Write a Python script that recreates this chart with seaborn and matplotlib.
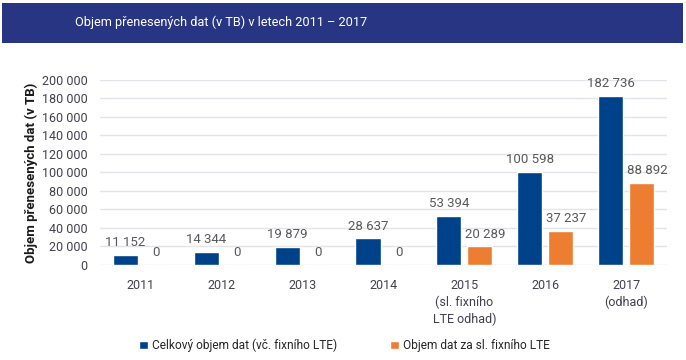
import pandas as pd
import matplotlib.pyplot as plt
import seaborn as sns
from matplotlib.patches import Rectangle
from matplotlib.ticker import FuncFormatter, MultipleLocator

# Data
years = ['2011', '2012', '2013', '2014', '2015\n(sl. fixního\nLTE odhad)', '2016', '2017\n(odhad)']
celkovy = [11152, 14344, 19879, 28637, 53394, 100598, 182736]
lte = [0, 0, 0, 0, 20289, 37237, 88892]
series_names = ['Celkový objem dat (vč. fixního LTE)', 'Objem dat za sl. fixního LTE']

df = pd.DataFrame({'Rok': years * 2,
                   'Objem': celkovy + lte,
                   'Serie': [series_names[0]] * len(years) + [series_names[1]] * len(years)})

sns.set_style('white')
plt.rcParams['font.family'] = ['Roboto', 'DejaVu Sans']

def fmt(v):
    return f'{int(round(v)):,}'.replace(',', ' ')

fig = plt.figure(figsize=(6.86, 3.6), dpi=100)
ax = fig.add_axes([0.146, 0.264, 0.826, 0.514])

# title banner
fig.patches.append(Rectangle((0.003, 0.881), 0.993, 0.111, transform=fig.transFigure,
                             facecolor='#283583', edgecolor='none', zorder=0))
fig.text(0.109, 0.937, 'Objem přenesených dat (v TB) v letech 2011 – 2017',
         color='white', fontsize=9.2, va='center', ha='left')

sns.barplot(data=df, x='Rok', y='Objem', hue='Serie', ax=ax,
            palette=['#00428a', '#ed7d31'], width=0.765, gap=0.19,
            saturation=1, legend=True)

for i, cont in enumerate(ax.containers):
    anns = ax.bar_label(cont, labels=[fmt(b.get_height()) for b in cont],
                        padding=4, fontsize=9.5, color='#595959')
    if i == 1:
        # non-zero orange labels sit a little to the right in the original
        for a, b in zip(anns, cont):
            if b.get_height() > 0:
                a.xyann = (4, 4)

ax.set_xlim(-0.5, 6.5)
ax.set_ylim(0, 200000)
ax.yaxis.set_major_locator(MultipleLocator(20000))
ax.yaxis.set_major_formatter(FuncFormatter(lambda v, p: fmt(v)))
ax.grid(axis='y', color='#e3e3ea', linewidth=1)
ax.set_axisbelow(True)
for s in ax.spines.values():
    s.set_visible(False)
ax.tick_params(axis='both', length=0, labelsize=9, colors='#404050')
ax.tick_params(axis='y', pad=9)
ax.tick_params(axis='x', pad=10)
for t in ax.get_xticklabels():
    t.set_linespacing(1.35)
ax.set_xlabel('')
ax.set_ylabel('Objem přenesených dat (v TB)', fontsize=9.5, fontweight='bold',
              color='#1a1a1a', labelpad=3)

leg = ax.legend(loc='center', bbox_to_anchor=(0.431, -0.435), ncol=2, frameon=False,
                fontsize=8.6, handlelength=0.75, handleheight=0.75, handletextpad=0.3,
                columnspacing=4.5)

fig.savefig('out.png', dpi=100)
